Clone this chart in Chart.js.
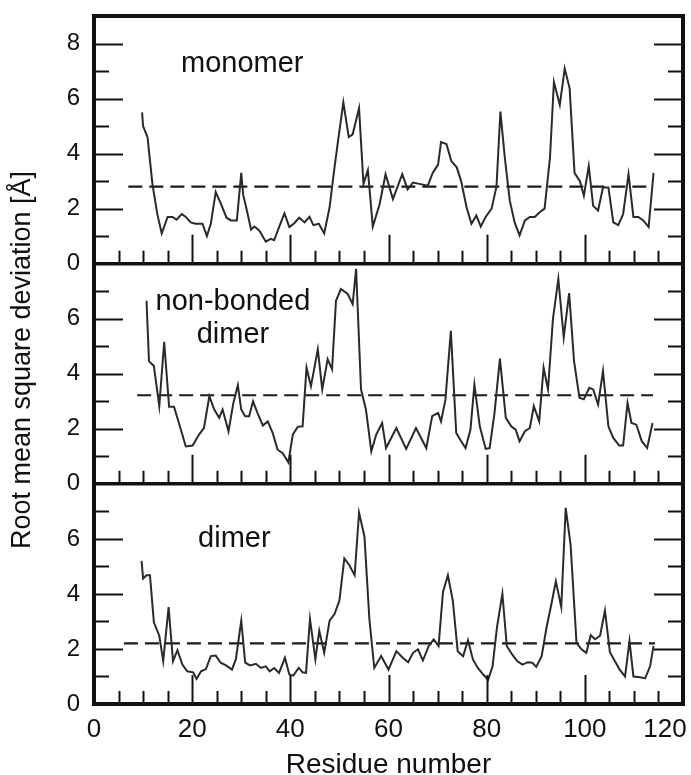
<!DOCTYPE html>
<html>
<head>
<meta charset="utf-8">
<title>RMSD per residue</title>
<script src="https://cdn.jsdelivr.net/npm/chart.js@4.4.1/dist/chart.umd.min.js"></script>
<style>
  html, body { margin: 0; background: #fff; }
  #wrap { width: 691px; height: 775px; position: relative; }
</style>
</head>
<body>
<div id="wrap"><canvas id="ch-rmsd"></canvas></div>
<script>
// RMSD per residue: monomer / non-bonded dimer / dimer, three panels on one shared x axis.
const FONT = '"Liberation Sans", Arial, Helvetica, sans-serif';

const X_TICKS = [0, 20, 40, 60, 80, 100, 120];
const PANEL_NAMES = [["monomer"], ["non-bonded", "dimer"], ["dimer"]];
const Y_MAX = [9, 8, 8];
const Y_TICKS = [[0, 2, 4, 6, 8], [0, 2, 4, 6], [0, 2, 4, 6]];

// monomer
const MONO_X = [9.8, 10.0, 10.9, 11.9, 12.9, 13.8, 15, 16, 16.8, 17.9, 18.7, 19.7, 20.7, 22.1, 23, 23.8, 24.8, 25.8, 27, 27.9,
  29.1, 30, 30.4, 31, 32, 32.7, 33.7, 35, 36, 36.7, 37.7, 38.8, 39.8, 40.8, 41.8, 42.9, 43.9, 44.7, 45.8, 46.9,
  48, 49, 49.9, 50.8, 51.9, 52.7, 54, 54.9, 55.8, 56.8, 58.2, 59.4, 60.9, 62.8, 63.9, 65, 66.3, 68, 69, 70.1,
  70.7, 71.8, 72.8, 73.9, 74.8, 75.9, 76.9, 77.9, 78.8, 79.8, 81, 82, 82.8, 83.7, 84.7, 85.7, 86.7, 87.8, 88.8, 89.8,
  90.8, 91.8, 92.9, 93.7, 94.9, 95.9, 96.9, 97.9, 99, 99.8, 100.8, 101.7, 102.7, 103.7, 104.8, 105.8, 106.8, 107.8, 108.9, 109.9,
  110.9, 111.9, 113, 114];
const MONO_Y = [5.5, 5.0, 4.6, 2.9, 1.8, 1.1, 1.7, 1.7, 1.6, 1.8, 1.7, 1.5, 1.45, 1.45, 1.0, 1.45, 2.6, 2.2, 1.67, 1.57,
  1.57, 3.3, 2.5, 2.05, 1.24, 1.35, 1.2, 0.8, 0.9, 0.85, 1.33, 1.83, 1.33, 1.47, 1.67, 1.5, 1.7, 1.4, 1.45, 1.1,
  2.05, 3.5, 4.7, 5.86, 4.6, 4.7, 5.65, 2.9, 3.4, 1.35, 2.17, 3.25, 2.35, 3.25, 2.7, 2.95, 2.9, 2.83, 3.3, 3.6,
  4.42, 4.35, 3.73, 3.5, 3.0, 2.05, 1.45, 1.75, 1.35, 1.7, 2.0, 2.8, 5.53, 3.85, 2.3, 1.5, 1.03, 1.57, 1.7, 1.7,
  1.87, 2.0, 3.85, 6.6, 5.77, 7.09, 6.37, 3.3, 3.0, 2.47, 3.55, 2.1, 1.93, 2.77, 2.77, 1.5, 1.4, 1.8, 3.25, 1.7,
  1.7, 1.57, 1.33, 3.3];

// non-bonded dimer
const NB_X = [10.7, 11.2, 12.2, 13.3, 14.3, 15.3, 16.3, 17.3, 18.7, 20.1, 21.4, 22.4, 23.5, 24.5, 25.5, 26.2, 27.4, 28.4, 29.3, 30,
  30.8, 31.6, 32.4, 33.3, 34.4, 35.4, 36.4, 37.4, 38.4, 39.6, 40.5, 41.5, 42.5, 43.3, 44.2, 45.6, 46.5, 47.6, 48.5, 49.3,
  50.3, 51.7, 52.7, 53.4, 54.4, 55.4, 56.5, 57.5, 58.7, 59.5, 61.6, 63.6, 65.6, 67.7, 68.9, 70.1, 70.7, 71.6, 72.7, 73.8,
  74.8, 75.7, 76.7, 77.5, 78.6, 79.8, 80.6, 81.6, 82.7, 83.9, 85, 85.9, 86.7, 87.8, 88.8, 89.6, 90.7, 91.6, 92.5, 93.5,
  94.6, 95.7, 96.8, 97.8, 98.9, 99.8, 100.9, 101.7, 102.7, 103.7, 104.8, 105.8, 107, 107.8, 108.7, 109.5, 110.5, 111.6, 112.7, 113.8];
const NB_Y = [6.65, 4.46, 4.28, 2.82, 5.16, 2.8, 2.8, 2.21, 1.36, 1.39, 1.79, 2.03, 3.19, 2.7, 2.4, 2.7, 1.91, 2.94, 3.58, 2.7,
  2.46, 2.46, 3.0, 2.58, 2.12, 2.27, 1.85, 1.24, 1.12, 0.78, 1.79, 2.07, 2.09, 4.22, 3.55, 4.89, 3.43, 4.53, 4.16, 6.65,
  7.08, 6.9, 6.53, 7.81, 3.43, 2.7, 1.18, 1.79, 2.21, 1.3, 2.03, 1.27, 2.03, 1.3, 2.46, 2.58, 2.27, 3.06, 5.56, 1.85,
  1.55, 1.3, 1.97, 3.61, 2.09, 1.27, 1.3, 2.58, 4.55, 2.4, 2.09, 1.97, 1.55, 1.91, 2.03, 2.82, 2.27, 4.22, 3.43, 5.99,
  7.45, 5.32, 6.93, 4.46, 3.13, 3.07, 3.49, 3.43, 2.88, 4.1, 2.09, 1.67, 1.39, 1.39, 2.94, 2.21, 2.15, 1.55, 1.3, 2.21];

// dimer
const DIM_X = [9.7, 10.0, 10.7, 11.4, 12.2, 13.3, 14.1, 15.2, 16.1, 17, 18, 19, 20.2, 20.9, 21.8, 22.8, 23.8, 24.8, 25.8, 26.9,
  28.1, 28.9, 30, 30.8, 31.8, 33, 34, 35, 35.8, 36.7, 37.7, 38.9, 39.8, 40.6, 41.7, 42.5, 43.2, 44, 45.1, 45.9,
  46.9, 48, 49, 50, 51, 52, 53.1, 54, 55.1, 56.1, 57.1, 58.5, 60, 61.6, 62.9, 64, 65, 66, 67, 68.2,
  69.2, 70.2, 71.1, 72.1, 73.1, 74.1, 75.2, 76.2, 77.2, 78.2, 79.3, 80.3, 81.2, 82.1, 83.2, 84.1, 85.2, 86.2, 87.3, 88.4,
  89.3, 90.1, 91.2, 92.2, 93.2, 94.1, 95.2, 96.1, 97.1, 98.3, 99.3, 100.3, 101.2, 102.1, 103.1, 104.1, 105.1, 106.1, 107.1, 108.2,
  109.1, 109.9, 110.9, 112.3, 113.3, 114];
const DIM_Y = [5.2, 4.56, 4.68, 4.68, 2.97, 2.48, 1.56, 3.52, 1.56, 1.96, 1.43, 1.19, 1.15, 0.91, 1.19, 1.27, 1.74, 1.76, 1.5, 1.4,
  1.25, 1.62, 3.03, 1.5, 1.4, 1.46, 1.31, 1.37, 1.19, 1.31, 1.13, 1.68, 1.07, 1.03, 1.31, 1.15, 1.13, 3.09, 1.62, 2.66,
  1.86, 3.03, 3.27, 3.76, 5.29, 5.05, 4.68, 6.95, 6.09, 3.09, 1.31, 1.74, 1.25, 1.92, 1.68, 1.52, 1.86, 1.99, 1.58, 2.11,
  2.35, 2.11, 4.07, 4.68, 3.76, 1.92, 1.74, 2.32, 1.62, 1.31, 1.07, 0.88, 1.37, 2.78, 4.01, 2.11, 1.8, 1.56, 1.43, 1.52,
  1.5, 1.35, 1.74, 2.78, 3.64, 4.46, 3.52, 7.13, 5.78, 2.23, 1.99, 1.86, 2.5, 2.35, 2.48, 3.39, 1.89, 1.56, 1.25, 1.0,
  2.29, 1.0, 0.98, 0.94, 1.37, 2.11];

// dashed reference level per panel and its x extent
const CUTOFF = [2.8, 3.22, 2.2];
const CUTOFF_FROM = [7.0, 8.8, 6.1];
const CUTOFF_TO = [113.6, 113.9, 114.3];

(function () {
  const SERIES = [[MONO_X, MONO_Y], [NB_X, NB_Y], [DIM_X, DIM_Y]];
  const AXIS_IDS = ["yTop", "yMid", "yBot"];
  const LABEL_AT = [{ x: 30.2, y: 7.25 }, { x: 28.3, y: 6.6 }, { x: 28.6, y: 6.0 }];
  const INK = "#111";

  const datasets = [];
  SERIES.forEach(([xs, ys], i) => {
    datasets.push({
      data: xs.map((x, k) => ({ x: x, y: ys[k] })),
      yAxisID: AXIS_IDS[i], borderColor: "#2a2a2a", borderWidth: 2,
      pointRadius: 0, tension: 0, fill: false
    });
    datasets.push({
      data: [{ x: CUTOFF_FROM[i], y: CUTOFF[i] }, { x: CUTOFF_TO[i], y: CUTOFF[i] }],
      yAxisID: AXIS_IDS[i], borderColor: "#1a1a1a", borderWidth: 2.2, borderDash: [14, 7],
      pointRadius: 0, fill: false
    });
  });

  function yScale(i) {
    return {
      type: "linear", position: "left", stack: "rmsd", stackWeight: Y_MAX[i],
      min: 0, max: Y_MAX[i],
      afterBuildTicks: (s) => { s.ticks = Y_TICKS[i].map((v) => ({ value: v })); },
      afterFit: (s) => { s.width = 94; s.paddingTop = 0; s.paddingBottom = 0; },
      grid: { display: false, drawTicks: false }, border: { display: false },
      ticks: { font: { family: FONT, size: 24 }, color: INK, padding: 14 }
    };
  }

  // frame, inward ticks, panel names and the shared y title
  const framePlugin = {
    id: "frame",
    afterDraw(chart) {
      const ctx = chart.ctx, a = chart.chartArea, xs = chart.scales.x;
      ctx.save();
      ctx.strokeStyle = INK;
      ctx.lineWidth = 2;
      AXIS_IDS.forEach((id, i) => {
        const s = chart.scales[id];
        ctx.beginPath();
        for (let v = 1; v < Y_MAX[i]; v++) {
          const y = Math.round(s.getPixelForValue(v)) + 0.5;
          const len = v % 2 === 0 ? 29 : 15;
          ctx.moveTo(a.left, y); ctx.lineTo(a.left + len, y);
          ctx.moveTo(a.right, y); ctx.lineTo(a.right - len, y);
        }
        for (let v = 5; v < 120; v += 5) {
          const x = Math.round(xs.getPixelForValue(v)) + 0.5;
          const len = v % 20 === 0 ? 29 : 13;
          ctx.moveTo(x, s.bottom); ctx.lineTo(x, s.bottom - len);
        }
        ctx.stroke();
      });
      // panel separators and outer frame
      ctx.lineWidth = 3.5;
      ctx.beginPath();
      ["yMid", "yBot"].forEach((id) => {
        const y = chart.scales[id].top;
        ctx.moveTo(a.left, y); ctx.lineTo(a.right, y);
      });
      ctx.stroke();
      ctx.lineWidth = 4;
      ctx.strokeRect(a.left, a.top, a.right - a.left, a.bottom - a.top);

      ctx.fillStyle = INK;
      ctx.textAlign = "center";
      ctx.textBaseline = "middle";
      ctx.font = "29px " + FONT;
      PANEL_NAMES.forEach((lines, i) => {
        const s = chart.scales[AXIS_IDS[i]];
        const cx = xs.getPixelForValue(LABEL_AT[i].x);
        const cy = s.getPixelForValue(LABEL_AT[i].y);
        lines.forEach((t, k) => ctx.fillText(t, cx, cy + k * 33));
      });

      ctx.font = "27px " + FONT;
      ctx.translate(23, (a.top + a.bottom) / 2);
      ctx.rotate(-Math.PI / 2);
      ctx.fillText("Root mean square deviation [Å]", 0, 0);
      ctx.restore();
    }
  };

  new Chart(document.getElementById("ch-rmsd"), {
    type: "line",
    data: { datasets: datasets },
    plugins: [framePlugin],
    options: {
      responsive: true, maintainAspectRatio: false, animation: false,
      layout: { padding: { top: 16, right: 8, left: 0, bottom: 0 } },
      plugins: { legend: { display: false }, tooltip: { enabled: false } },
      scales: {
        x: {
          type: "linear", min: 0, max: 120,
          afterBuildTicks: (s) => { s.ticks = X_TICKS.map((v) => ({ value: v })); },
          afterFit: (s) => { s.height = 71; s.paddingLeft = 0; s.paddingRight = 0; },
          grid: { display: false, drawTicks: false }, border: { display: false },
          ticks: {
            font: { family: FONT, size: 26 }, color: INK, padding: 10,
            // last label sits against the right edge, nudge it inward with trailing spaces
            callback: (v) => (v === 120 ? "120\u00a0\u00a0\u00a0\u00a0\u00a0" : String(v))
          },
          title: { display: true, text: "Residue number", color: INK,
            font: { family: FONT, size: 28, lineHeight: 0.7 }, padding: { top: 0, bottom: 0 } }
        },
        yBot: yScale(2),
        yMid: yScale(1),
        yTop: yScale(0)
      }
    }
  });
})();
</script>
</body>
</html>
